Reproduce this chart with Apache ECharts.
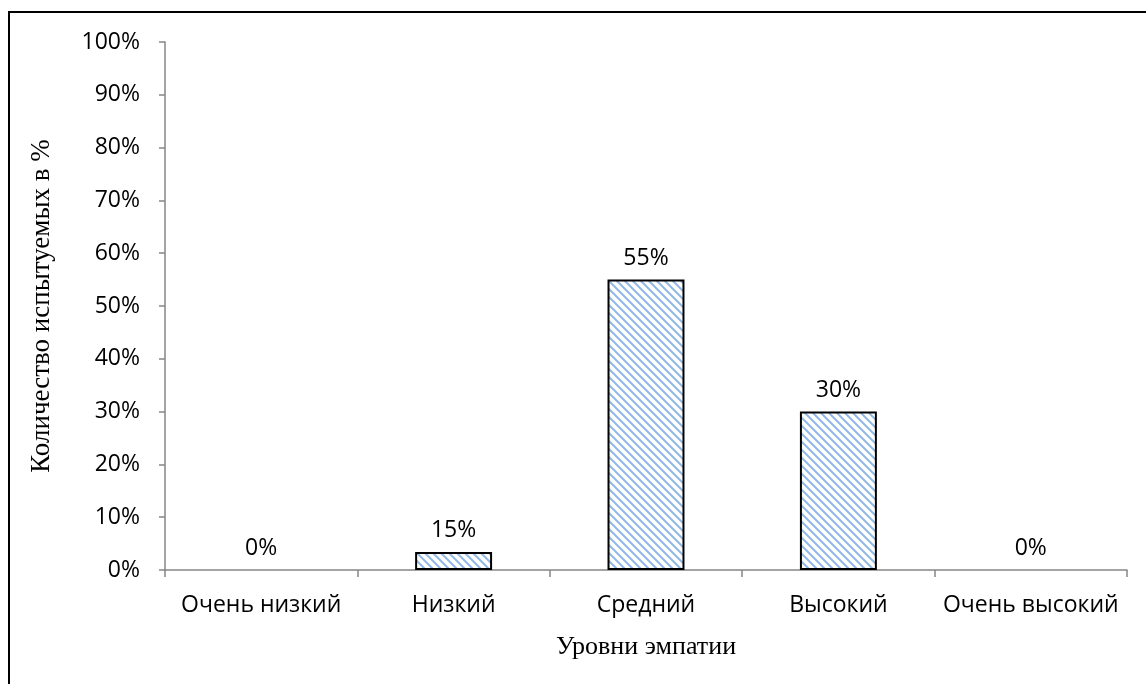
<!DOCTYPE html>
<html>
<head>
<meta charset="utf-8">
<script src="https://cdn.jsdelivr.net/npm/echarts@6/dist/echarts.min.js"></script>
<style>
  html, body { margin: 0; padding: 0; background: #fff; }
  #chart { width: 1146px; height: 684px; }
</style>
</head>
<body>
<div id="chart"></div>
<script>
// уровни эмпатии
const categories = ['Очень низкий', 'Низкий', 'Средний', 'Высокий', 'Очень высокий']
// высота столбцов, как на рисунке (в %)
const barValues = [0, 3.4, 55, 30, 0]
// подписи над столбцами
const barLabels = ['0%', '15%', '55%', '30%', '0%']

// штриховка столбцов
function makeStripes () {
  const c = document.createElement('canvas')
  c.width = 8
  c.height = 8
  const ctx = c.getContext('2d')
  ctx.fillStyle = '#fff'
  ctx.fillRect(0, 0, 8, 8)
  ctx.strokeStyle = '#92B8E6'
  ctx.lineWidth = 2
  ctx.beginPath()
  ctx.moveTo(-4, -4); ctx.lineTo(12, 12)
  ctx.moveTo(-4, 4); ctx.lineTo(4, 12)
  ctx.moveTo(4, -4); ctx.lineTo(12, 4)
  ctx.stroke()
  return c
}

const sans = '"Open Sans", "Noto Sans", sans-serif'
const serif = '"Liberation Serif", "DejaVu Serif", serif'
const axisColor = '#868686'

// нулевые столбцы без рамки
const barData = barValues.map(v => v === 0 ? { value: v, itemStyle: { borderWidth: 0 } } : v)

const chart = echarts.init(document.getElementById('chart'))
chart.setOption({
  animation: false,
  graphic: [{
    type: 'rect',
    z: -10,
    shape: { x: 9, y: 12, width: 1200, height: 700 },
    style: { fill: 'none', stroke: '#000', lineWidth: 2 }
  }],
  grid: { left: 165, right: 19, top: 42, bottom: 114 },
  xAxis: {
    type: 'category',
    data: categories,
    name: 'Уровни эмпатии',
    nameLocation: 'middle',
    nameGap: 64,
    nameTextStyle: { fontFamily: serif, fontSize: 26, color: '#000' },
    axisLine: { lineStyle: { color: axisColor, width: 1.5 } },
    axisTick: { show: true, length: 7, lineStyle: { color: axisColor, width: 1.5 } },
    axisLabel: { interval: 0, fontFamily: sans, fontSize: 23, color: '#000', margin: 24 }
  },
  yAxis: {
    type: 'value',
    min: 0,
    max: 100,
    interval: 10,
    name: 'Количество испытуемых в %',
    nameLocation: 'middle',
    nameGap: 110,
    nameTextStyle: { fontFamily: serif, fontSize: 27, color: '#000' },
    axisLine: { show: true, lineStyle: { color: axisColor, width: 1.5 } },
    axisTick: { show: true, length: 6, lineStyle: { color: axisColor, width: 1.5 } },
    splitLine: { show: false },
    axisLabel: { fontFamily: sans, fontSize: 23, color: '#000', margin: 25, formatter: '{value}%' }
  },
  series: [{
    type: 'bar',
    data: barData,
    barWidth: '40%',
    itemStyle: {
      color: { image: makeStripes(), repeat: 'repeat' },
      borderColor: '#000',
      borderWidth: 2
    },
    label: {
      show: true,
      position: 'top',
      distance: 10,
      fontFamily: sans,
      fontSize: 23,
      color: '#000',
      formatter: p => barLabels[p.dataIndex]
    }
  }]
})
</script>
</body>
</html>
